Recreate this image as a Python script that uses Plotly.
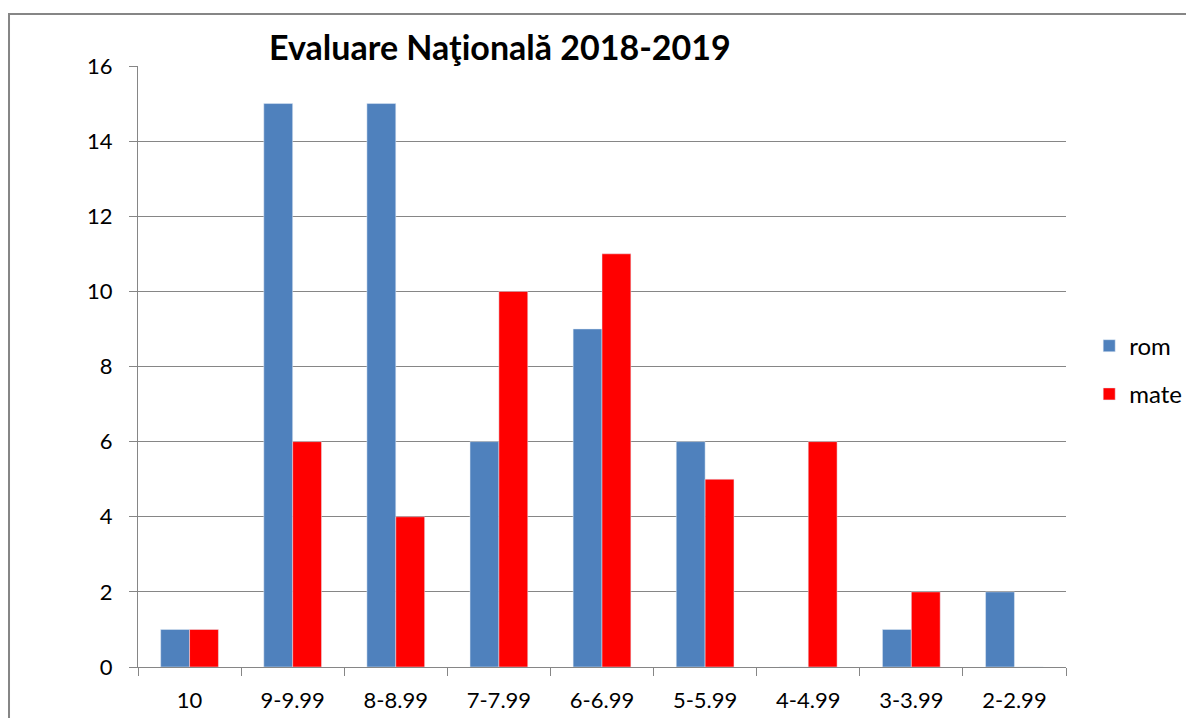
import plotly.graph_objects as go

categories = ["10", "9-9.99", "8-8.99", "7-7.99", "6-6.99", "5-5.99", "4-4.99", "3-3.99", "2-2.99"]
rom = [1, 15, 15, 6, 9, 6, 0, 1, 2]
mate = [1, 6, 4, 10, 11, 5, 6, 2, 0]

FONT = "Lato, Liberation Sans, sans-serif"
GRAY = "#868686"

fig = go.Figure()
fig.add_trace(go.Bar(x=categories, y=rom, name="rom", marker_color="#4F81BD", legendgroup="a"))
fig.add_trace(go.Bar(x=categories, y=mate, name="mate", marker_color="#FF0000", legendgroup="b"))

# page has an 8px body margin, so the figure is shifted by 8px
fig.update_layout(
    width=1186, height=710,
    margin=dict(l=130, r=128, t=58, b=51, autoexpand=False),
    plot_bgcolor="white", paper_bgcolor="white",
    barmode="group", bargap=0.44, bargroupgap=0,
    font=dict(family=FONT, size=22, color="black"),
    title=dict(text="<b>Evaluare Naţională 2018-2019</b>", font=dict(size=34, family=FONT),
               x=0.39, xref="paper", xanchor="center", y=0.9437, yanchor="middle"),
    legend=dict(x=1.025, xanchor="left", y=0.494, yanchor="middle", tracegroupgap=14,
                font=dict(size=24)),
)

# y/x axis lines and ticks
fig.update_yaxes(range=[0, 16], dtick=2, showgrid=True, gridcolor=GRAY, gridwidth=1,
                 showline=True, linecolor=GRAY, ticks="outside", ticklen=8, tickcolor=GRAY,
                 zeroline=False, ticklabelstandoff=12, automargin=False)
fig.update_xaxes(showline=True, linecolor=GRAY, ticks="outside", tickson="boundaries",
                 ticklen=8, tickcolor=GRAY, ticklabelstandoff=14, automargin=False)

# outer chart border
fig.add_shape(type="rect", xref="paper", yref="paper", x0=-0.139, x1=1.1369, y0=-0.2, y1=1.0865,
              line=dict(color=GRAY, width=2), fillcolor="rgba(0,0,0,0)", layer="below")

fig.write_html("out.html")
